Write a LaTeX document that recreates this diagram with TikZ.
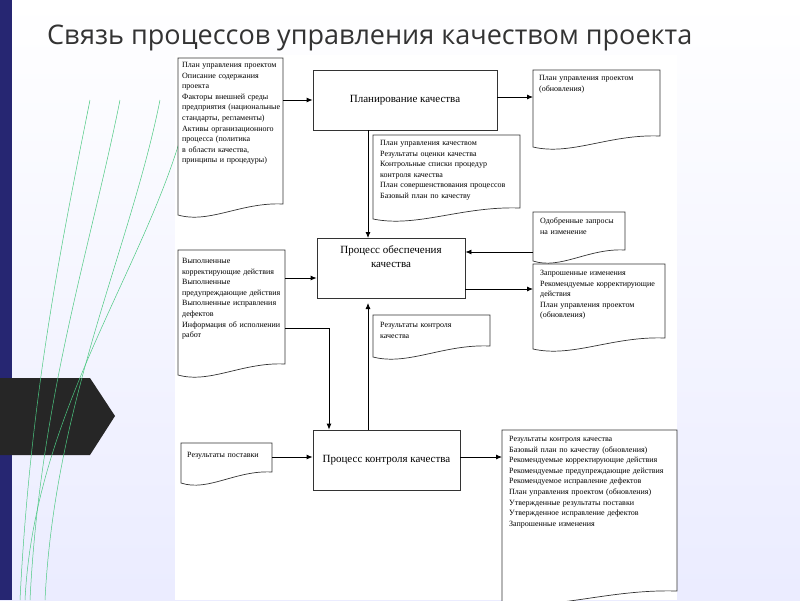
\documentclass[tikz,border=0pt]{standalone}
\usepackage{fontspec}
\setmainfont{Liberation Serif}
\newfontfamily\titlefont{Open Sans}
\usetikzlibrary{arrows.meta}
\newcommand{\docshape}[4]{% x1 y1 x2 y2
  \draw[docline] (#1,#2) -- (#3,#2) -- (#3,#4-14)
   .. controls ({#3-0.4*(#3-#1)},{#4-16}) and ({#1+0.3*(#3-#1)},{#4+6}) .. (#1,#4-3) -- cycle;}
\begin{document}
\begin{tikzpicture}[x=1pt,y=-1pt,
  docline/.style={draw=black!80,line width=0.7pt,fill=white},
  proc/.style={draw=black!80,line width=0.8pt,fill=white,align=center,font=\fontsize{11}{14}\selectfont},
  doctext/.style={anchor=north west,align=left,inner sep=0pt,font=\fontsize{8}{10.6}\selectfont},
  arr/.style={line width=0.8pt,-{Latex[length=6pt,width=5pt]}},
  ln/.style={line width=0.8pt}]
\useasboundingbox (0,0) rectangle (800,600);
\shade[top color=white,bottom color=cyan!6!blue!8] (0,0) rectangle (800,600);
\fill[white] (175,55) rectangle (677,600);
% left decoration
\fill[blue!35!black!85] (0,0) rectangle (12,600);
\fill[black!85] (0,378) -- (90,378) -- (115,416) -- (90,455) -- (0,455) -- cycle;
\foreach \a/\b in {20/60,30/90,45/130,25/160}
  \draw[green!40!teal!70,line width=0.5pt] (\a,600) .. controls (\a+10,400) and (\b,250) .. (\b+30,100);
\node[anchor=west,inner sep=0pt,font=\titlefont\fontsize{27}{30}\selectfont,text=black!80] (title) at (47,38) {Связь процессов управления качеством проекта};
% processes
\node[proc,minimum width=184,minimum height=60] (plan) at (405,100) {Планирование качества};
\node[proc,minimum width=148,minimum height=60] (assure) at (391,268) {Процесс обеспечения\\качества\\[8pt]};
\node[proc,minimum width=147,minimum height=60] (ctrl) at (386.5,460) {Процесс контроля качества};
% documents
\docshape{178}{58}{283}{218}
\node[doctext,text width=98] (d1) at (182,62) {План управления проектом\\Описание содержания проекта\\Факторы внешней среды предприятия (национальные стандарты, регламенты)\\Активы организационного процесса (политика в области качества, принципы и процедуры)};
\docshape{533}{70}{660}{150}
\node[doctext,text width=120] (d2) at (539,75) {План управления проектом\\(обновления)};
\docshape{373}{135}{520}{222}
\node[doctext,text width=140] (d3) at (380,140) {План управления качеством\\Результаты оценки качества\\Контрольные списки процедур контроля качества\\План совершенствования процессов\\Базовый план по качеству};
\docshape{533}{212}{625}{264}
\node[doctext,text width=85] (d4) at (540,218) {Одобренные запросы\\на изменение};
\docshape{533}{264}{665}{352}
\node[doctext,text width=125] (d5) at (540,270) {Запрошенные изменения\\Рекомендуемые корректирующие действия\\План управления проектом\\(обновления)};
\docshape{178}{250}{285}{378}
\node[doctext,text width=100] (d6) at (182,258) {Выполненные корректирующие действия\\Выполненные предупреждающие действия\\Выполненные исправления дефектов\\Информация об исполнении работ};
\docshape{373}{315}{490}{360}
\node[doctext,text width=110] (d7) at (380,322) {Результаты контроля\\качества};
\docshape{181}{443}{272}{486}
\node[doctext,text width=88] (d8) at (187,452) {Результаты поставки};
\docshape{502}{430}{677}{605}
\node[doctext,text width=170] (d9) at (509,436) {Результаты контроля качества\\Базовый план по качеству (обновления)\\Рекомендуемые корректирующие действия\\Рекомендуемые предупреждающие действия\\Рекомендуемое исправление дефектов\\План управления проектом (обновления)\\Утвержденные результаты поставки\\Утвержденное исправление дефектов\\Запрошенные изменения};
% coordinates and connectors
\coordinate (c1) at (283,100);
\coordinate (c2) at (533,97);
\coordinate (c3) at (533,252);
\coordinate (c4) at (533,289);
\coordinate (c5) at (285,278);
\coordinate (c6) at (285,328);
\coordinate (c6b) at (329,328);
\coordinate (c8) at (272,457);
\coordinate (c9) at (502,457);
\draw[arr] (c1) -- (plan.west |- c1);
\draw[arr] (plan.east |- c2) -- (c2);
\draw[arr] (368,130) -- (368,238);
\draw[arr] (c3) -- (assure.east |- c3);
\draw[arr] (assure.east |- c4) -- (c4);
\draw[arr] (c5) -- (assure.west |- c5);
\draw[arr] (c6) -- (c6b) -- (ctrl.north -| c6b);
\draw[arr] (368,430) -- (368,303);
\draw[arr] (c8) -- (ctrl.west |- c8);
\draw[arr] (ctrl.east |- c9) -- (c9);
\end{tikzpicture}
\end{document}
